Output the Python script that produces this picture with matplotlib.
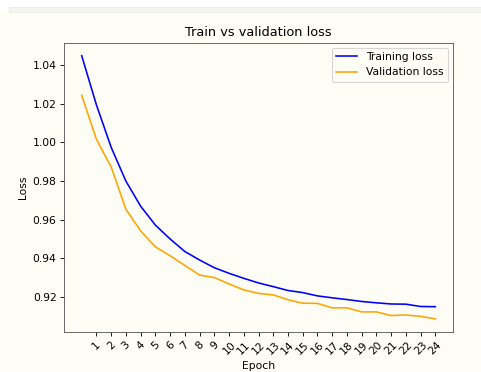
import matplotlib
matplotlib.use("Agg")
import matplotlib.pyplot as plt
from matplotlib.patches import Rectangle

epochs = list(range(0, 25))
train_loss = [1.0450, 1.0195, 0.9975, 0.9800, 0.9670, 0.9572, 0.9500, 0.9435,
              0.9391, 0.9351, 0.9322, 0.9296, 0.9272, 0.9253, 0.9233, 0.9222,
              0.9205, 0.9195, 0.9186, 0.9176, 0.9169, 0.9163, 0.9162, 0.9150,
              0.9149]
val_loss = [1.0245, 1.0016, 0.9873, 0.9654, 0.9542, 0.9459, 0.9413, 0.9363,
            0.9313, 0.9300, 0.9267, 0.9236, 0.9218, 0.9210, 0.9185, 0.9167,
            0.9166, 0.9143, 0.9143, 0.9122, 0.9122, 0.9103, 0.9106, 0.9099,
            0.9086]
xtick_labels = list(range(1, 25))

DPI = 77
W, H = 481, 372
bg = '#fdfdf5'
fig = plt.figure(figsize=(W / DPI, H / DPI), dpi=DPI, facecolor=bg)

# notebook-style strip at the top
fig.patches.append(Rectangle((0, 1 - 12 / H), 1, 12 / H, transform=fig.transFigure,
                             facecolor='white', edgecolor='none', zorder=0))
fig.patches.append(Rectangle((9 / W, 1 - 12 / H), 1, 5 / H, transform=fig.transFigure,
                             facecolor='#f2f6ee', edgecolor='#e3e8de', linewidth=0.6, zorder=1))

ax = fig.add_axes([64 / W, 1 - 332 / H, (453 - 64) / W, (332 - 42.5) / H])
ax.set_facecolor(bg)
ax.plot(epochs, train_loss, color='blue', label='Training loss')
ax.plot(epochs, val_loss, color='orange', label='Validation loss')
ax.set_xticks(xtick_labels)
ax.set_xticklabels([str(t) for t in xtick_labels], rotation=45)
ax.set_title('Train vs validation loss')
ax.set_xlabel('Epoch')
ax.set_ylabel('Loss')
for s in ax.spines.values():
    s.set_color('#555555')
ax.legend(loc='upper right', facecolor=bg)

fig.savefig('out.png', dpi=DPI, facecolor=bg)
